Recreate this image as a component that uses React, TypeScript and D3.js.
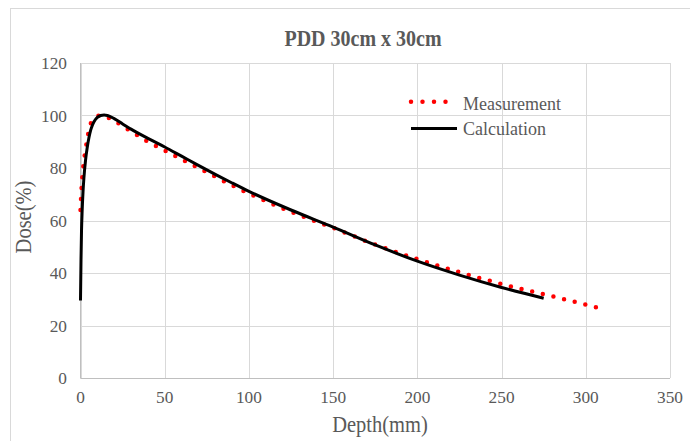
import React from "react";
import * as d3 from "d3";

const xTicks = [0, 50, 100, 150, 200, 250, 300, 350];
const yTicks = [0, 20, 40, 60, 80, 100, 120];

const measDepth = [0, 0.5, 1, 2, 3, 4, 5, 6, 8, 10, 12, 14, 16, 20, 25, 30, 40, 50, 60, 70, 80, 90, 100, 125, 150, 175, 200, 225, 250, 275, 300, 306];
const measDose = [64, 71, 76, 82.5, 87, 91, 94.5, 96.8, 98.8, 99.7, 100, 99.8, 99.3, 98, 96, 94, 90, 86.7, 83.3, 80, 76.7, 73.4, 70.3, 63.3, 57.2, 50.8, 45.3, 40.3, 35.8, 31.9, 28, 27];

const calcDepth = [0, 0.3, 0.6, 1, 1.5, 2, 3, 4, 5, 6, 7, 8, 10, 12, 14, 16, 20, 25, 30, 40, 50, 60, 70, 80, 90, 100, 125, 150, 175, 200, 225, 250, 275];
const calcDose = [29.5, 45, 56, 64, 71, 76, 83, 87.8, 91.5, 94.3, 96.2, 97.6, 99.3, 100, 100.2, 100, 98.8, 96.8, 94.8, 91.3, 88, 84.5, 81, 77.6, 74.3, 71.1, 64, 57.5, 50.7, 44.5, 39.2, 34.5, 30.4];

const W = 690;
const H = 441;
const FONT = "'Liberation Serif', 'Times New Roman', serif";
const TXT = "#595959";

export default function App() {
  const x = d3.scaleLinear().domain([0, 350]).range([80.5, 670]);
  const y = d3.scaleLinear().domain([0, 120]).range([378, 63]);

  const line = d3
    .line<[number, number]>()
    .x((d) => x(d[0]))
    .y((d) => y(d[1]))
    .curve(d3.curveMonotoneX);

  const meas = measDepth.map((d, i) => [d, measDose[i]] as [number, number]);
  const calc = calcDepth.map((d, i) => [d, calcDose[i]] as [number, number]);

  let measLen = 0;
  for (let i = 1; i < meas.length; i++) {
    measLen += Math.hypot(x(meas[i][0]) - x(meas[i - 1][0]), y(meas[i][1]) - y(meas[i - 1][1]));
  }
  const nDots = Math.max(1, Math.round(measLen / 11));

  return (
    <svg
      width={W}
      height={H}
      style={{ position: "absolute", left: 0, top: 0, background: "#fff" }}
      fontFamily={FONT}
    >
      <rect x={10.5} y={8.5} width={W + 10} height={H + 10} fill="#fff" stroke="#d9d9d9" />
      <text transform="translate(363,46) scale(1,1.15)" textAnchor="middle" fontSize={20} fontWeight="bold" fill={TXT}>
        PDD 30cm x 30cm
      </text>
      {yTicks.map((t) => (
        <g key={"y" + t}>
          <line x1={x(0)} x2={x(350)} y1={Math.round(y(t)) + 0.5} y2={Math.round(y(t)) + 0.5} stroke="#d9d9d9" />
          <text x={67} y={y(t) + 6} textAnchor="end" fontSize={17.3} fill={TXT}>
            {t}
          </text>
        </g>
      ))}
      {xTicks.map((t) => (
        <g key={"x" + t}>
          <line x1={Math.round(x(t)) + 0.5} x2={Math.round(x(t)) + 0.5} y1={y(0)} y2={y(120)} stroke="#d9d9d9" />
          <text x={x(t)} y={403} textAnchor="middle" fontSize={17.3} fill={TXT}>
            {t}
          </text>
        </g>
      ))}
      <line x1={x(0)} x2={x(350)} y1={378.5} y2={378.5} stroke="#bfbfbf" />
      <line x1={80.5} x2={80.5} y1={y(0)} y2={y(120)} stroke="#bfbfbf" />
      <text transform="translate(380,431.5) scale(1,1.1)" textAnchor="middle" fontSize={20.5} fill={TXT}>
        Depth(mm)
      </text>
      <text transform="translate(31,217) rotate(-90) scale(1,1.1)" textAnchor="middle" fontSize={20.5} fill={TXT}>
        Dose(%)
      </text>

      <path
        d={line(meas) || ""}
        fill="none"
        stroke="#ff0000"
        strokeWidth={4.5}
        strokeLinecap="round"
        pathLength={nDots}
        strokeDasharray="0 1"
      />
      <path d={line(calc) || ""} fill="none" stroke="#000" strokeWidth={3} strokeLinejoin="round" />

      <line x1={411} x2={457} y1={101.7} y2={101.7} stroke="#ff0000" strokeWidth={4.5} strokeLinecap="round" strokeDasharray="0 11.5" />
      <text x={463} y={110} fontSize={18} fill={TXT}>
        Measurement
      </text>
      <line x1={411} x2={457} y1={128.5} y2={128.5} stroke="#000" strokeWidth={3} />
      <text x={463} y={135} fontSize={18} fill={TXT}>
        Calculation
      </text>
    </svg>
  );
}
